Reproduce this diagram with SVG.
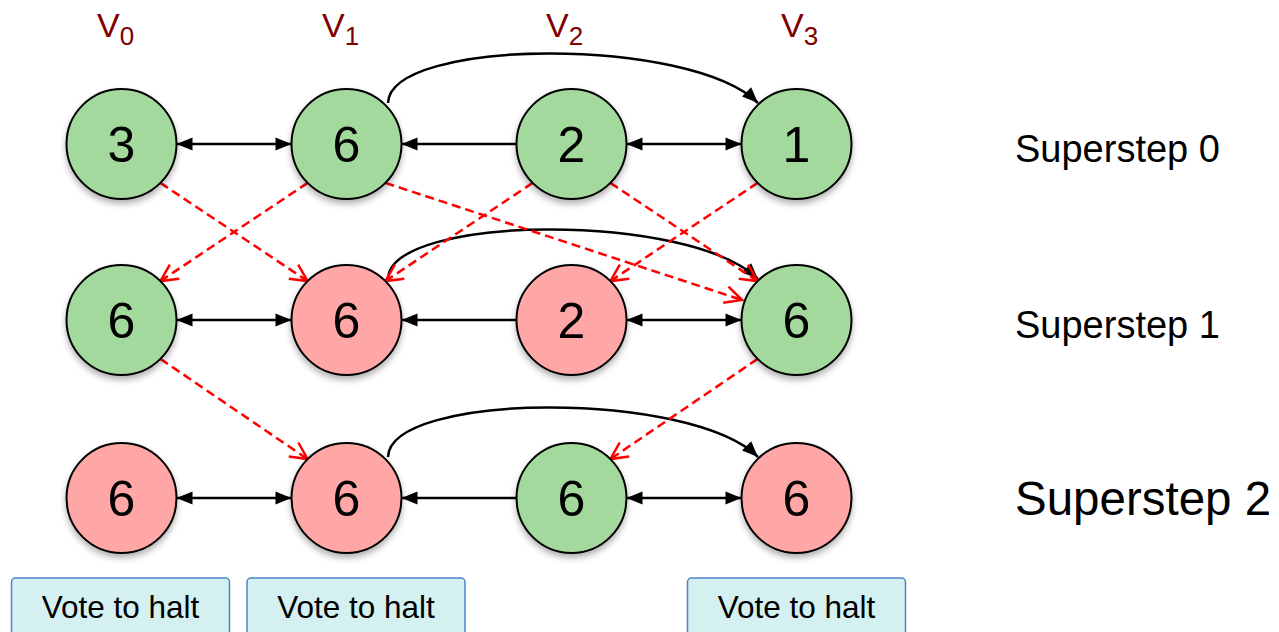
<svg xmlns="http://www.w3.org/2000/svg" width="1279" height="632" viewBox="0 0 1279 632">
<style>
text{font-family:"Liberation Sans",Arial,Helvetica,sans-serif;}
.g{fill:#a3d99c;stroke:#000;stroke-width:2;filter:url(#sh);}
.p{fill:#ffa6a6;stroke:#000;stroke-width:2;filter:url(#sh);}
.num{font-size:50px;fill:#000;text-anchor:middle;}
.vl{font-size:34px;fill:#800000;}
.sub{font-size:26px;}
.ss{font-size:38px;fill:#000;}
.blk{fill:none;stroke:#000;stroke-width:2.5;}
.h1{marker-end:url(#ah);}
.h2{marker-start:url(#ah);marker-end:url(#ah);}
.red{fill:none;stroke:#ff0000;stroke-width:2.5;stroke-dasharray:9 5;marker-end:url(#ra);}
.vote rect{fill:#d4f0f0;stroke:#4a86c8;stroke-width:1.5;}
.vote text{font-size:31.5px;fill:#000;text-anchor:middle;}
</style>
<defs>
<filter id="sh" x="-20%" y="-20%" width="140%" height="150%">
<feDropShadow dx="0" dy="4" stdDeviation="3" flood-color="#000" flood-opacity="0.3"/>
</filter>
<marker id="ah" markerUnits="userSpaceOnUse" markerWidth="18" markerHeight="16" refX="16" refY="6.5" orient="auto-start-reverse" overflow="visible">
<path d="M0,0 L16,6.5 L0,13 z" fill="#000"/>
</marker>
<marker id="ra" markerUnits="userSpaceOnUse" markerWidth="20" markerHeight="20" refX="0" refY="0" orient="auto" overflow="visible">
<path d="M-17,-8.5 L0,0 L-17,8.5" fill="none" stroke="#ff0000" stroke-width="2.5"/>
</marker>
</defs>

<g id="labels">
<text class="vl" x="97" y="37">V<tspan class="sub" dy="8">0</tspan></text>
<text class="vl" x="322" y="37">V<tspan class="sub" dy="8">1</tspan></text>
<text class="vl" x="546" y="37">V<tspan class="sub" dy="8">2</tspan></text>
<text class="vl" x="781" y="37">V<tspan class="sub" dy="8">3</tspan></text>
<text class="ss" x="1015" y="162">Superstep 0</text>
<text class="ss" x="1015" y="338">Superstep 1</text>
<text class="ss" x="1015" y="515" style="font-size:47.5px">Superstep 2</text>
</g>

<g id="connectors">
<!-- row 0 -->
<path class="blk h2" d="M176.5,144 L291.5,144"/>
<path class="blk h1" d="M516.5,144 L401.5,144"/>
<path class="blk h2" d="M626.5,144 L741.5,144"/>
<path class="blk h1" d="M388,103 C390,38 690,36 758,103"/>
<!-- row 1 -->
<path class="blk h2" d="M176.5,320 L291.5,320"/>
<path class="blk h1" d="M516.5,320 L401.5,320"/>
<path class="blk h2" d="M626.5,320 L741.5,320"/>
<path class="blk h1" d="M388,279 C390,214 690,212 758,279"/>
<!-- row 2 -->
<path class="blk h2" d="M176.5,498 L291.5,498"/>
<path class="blk h1" d="M516.5,498 L401.5,498"/>
<path class="blk h2" d="M626.5,498 L741.5,498"/>
<path class="blk h1" d="M388,457 C390,392 690,390 758,457"/>
<!-- red messages row0 -> row1 -->
<path class="red" d="M160.4,182.9 L307.6,281.1"/>
<path class="red" d="M307.6,182.9 L160.4,281.1"/>
<path class="red" d="M385.4,182.9 L742,300"/>
<path class="red" d="M532.6,182.9 L385.4,281.1"/>
<path class="red" d="M610.4,182.9 L757.6,281.1"/>
<path class="red" d="M757.6,182.9 L610.4,281.1"/>
<!-- red messages row1 -> row2 -->
<path class="red" d="M160.4,358.9 L307.6,459.1"/>
<path class="red" d="M757.6,358.9 L610.4,459.1"/>
</g>

<g id="n0_0"><circle class="g" cx="121.5" cy="144" r="55"/><text class="num" x="121.5" y="162">3</text></g>
<g id="n0_1"><circle class="g" cx="346.5" cy="144" r="55"/><text class="num" x="346.5" y="162">6</text></g>
<g id="n0_2"><circle class="g" cx="571.5" cy="144" r="55"/><text class="num" x="571.5" y="162">2</text></g>
<g id="n0_3"><circle class="g" cx="796.5" cy="144" r="55"/><text class="num" x="796.5" y="162">1</text></g>

<g id="n1_0"><circle class="g" cx="121.5" cy="320" r="55"/><text class="num" x="121.5" y="338">6</text></g>
<g id="n1_1"><circle class="p" cx="346.5" cy="320" r="55"/><text class="num" x="346.5" y="338">6</text></g>
<g id="n1_2"><circle class="p" cx="571.5" cy="320" r="55"/><text class="num" x="571.5" y="338">2</text></g>
<g id="n1_3"><circle class="g" cx="796.5" cy="320" r="55"/><text class="num" x="796.5" y="338">6</text></g>

<g id="n2_0"><circle class="p" cx="121.5" cy="498" r="55"/><text class="num" x="121.5" y="516">6</text></g>
<g id="n2_1"><circle class="p" cx="346.5" cy="498" r="55"/><text class="num" x="346.5" y="516">6</text></g>
<g id="n2_2"><circle class="g" cx="571.5" cy="498" r="55"/><text class="num" x="571.5" y="516">6</text></g>
<g id="n2_3"><circle class="p" cx="796.5" cy="498" r="55"/><text class="num" x="796.5" y="516">6</text></g>

<g id="vote0" class="vote"><rect x="11.5" y="578" width="218" height="58" rx="4"/><text x="120.5" y="618">Vote to halt</text></g>
<g id="vote1" class="vote"><rect x="247" y="578" width="218" height="58" rx="4"/><text x="356" y="618">Vote to halt</text></g>
<g id="vote3" class="vote"><rect x="687.5" y="578" width="218" height="58" rx="4"/><text x="796.5" y="618">Vote to halt</text></g>
</svg>
